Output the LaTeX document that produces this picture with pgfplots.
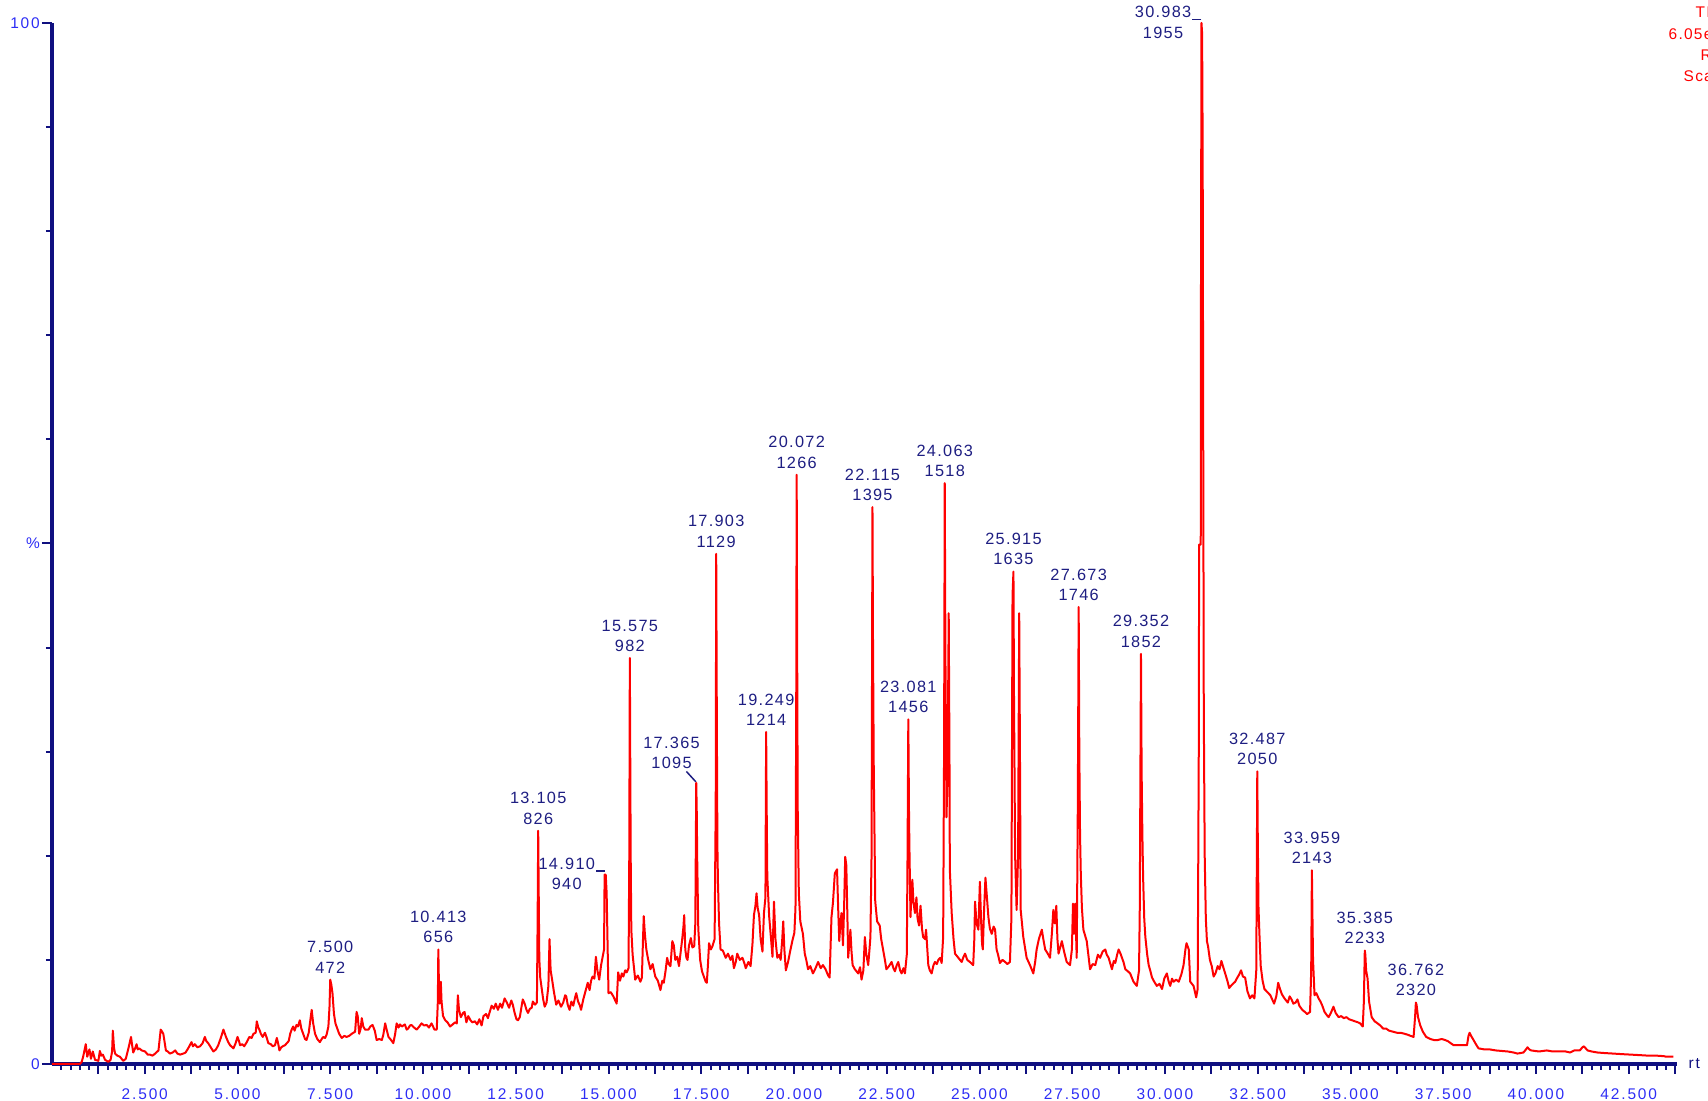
\documentclass[border=0pt]{standalone}
\usepackage{fontspec}
\setmainfont{Liberation Sans}
\newfontfamily\lblfont[LetterSpace=8]{Liberation Sans}
\newfontfamily\tkfont[LetterSpace=12]{Liberation Sans}
\usepackage{pgfplots}
\pgfplotsset{compat=1.18}
\definecolor{axiscol}{RGB}{16,16,128}
\definecolor{tickblue}{RGB}{45,45,245}
\definecolor{lblcol}{RGB}{30,30,130}
\definecolor{tracered}{RGB}{255,0,0}
\newcommand{\tickfont}{\tkfont\fontsize{4.4pt}{5pt}\selectfont}
\newcommand{\pkfont}{\lblfont\fontsize{4.64pt}{5.5pt}\selectfont}
\tikzset{lbl/.style={inner sep=0pt, text=lblcol, font=\pkfont}}
\newcommand{\pk}[4]{%
  \node[lbl, anchor=base, yshift=0.66mm] at (axis cs:#1,#2) {#4};
  \node[lbl, anchor=base, yshift=2.69mm] at (axis cs:#1,#2) {#3};
}
\pgfplotstableread{
x y
0.00 0.0
0.75 0.0
0.80 0.2
0.84 0.7
0.91 1.9
0.95 0.7
1.01 1.4
1.05 0.5
1.10 1.2
1.16 0.4
1.25 0.3
1.29 1.25
1.33 0.8
1.37 0.9
1.43 0.4
1.52 0.2
1.58 0.4
1.62 1.2
1.64 3.2
1.67 1.6
1.70 1.0
1.76 0.8
1.83 0.7
1.92 0.3
1.99 0.5
2.06 1.5
2.13 2.6
2.16 1.8
2.19 1.1
2.24 1.5
2.28 1.9
2.31 1.4
2.35 1.5
2.42 1.3
2.51 1.2
2.58 0.9
2.64 0.9
2.71 0.8
2.78 1.0
2.87 1.3
2.93 3.3
2.97 3.1
3.00 2.9
3.04 2.0
3.07 1.3
3.12 1.2
3.18 1.0
3.25 1.1
3.32 1.3
3.38 1.0
3.45 0.9
3.54 1.0
3.60 1.1
3.67 1.5
3.76 2.1
3.80 1.7
3.85 1.9
3.92 1.6
3.99 1.7
4.06 2.0
4.12 2.6
4.16 2.2
4.21 2.0
4.28 1.6
4.35 1.2
4.42 1.4
4.48 1.8
4.55 2.5
4.62 3.3
4.66 2.9
4.69 2.6
4.75 2.1
4.80 1.8
4.89 1.5
4.95 2.0
5.00 2.6
5.04 2.2
5.07 1.8
5.13 1.9
5.18 1.7
5.25 2.1
5.32 2.6
5.38 2.5
5.43 2.9
5.49 3.0
5.52 4.1
5.56 3.5
5.59 3.3
5.63 2.9
5.68 2.6
5.74 3.0
5.79 2.5
5.83 2.0
5.90 1.9
5.95 1.7
6.01 1.8
6.06 2.5
6.10 1.9
6.13 1.3
6.18 1.6
6.22 1.7
6.28 1.8
6.33 2.0
6.38 2.2
6.42 2.9
6.46 3.3
6.50 3.6
6.54 3.2
6.59 3.75
6.63 3.6
6.68 4.2
6.72 3.4
6.77 2.9
6.82 2.4
6.86 2.3
6.92 3.0
6.97 4.4
7.00 5.2
7.04 3.9
7.09 2.9
7.15 2.4
7.22 2.1
7.27 2.4
7.31 2.6
7.36 2.5
7.40 2.8
7.45 3.6
7.48 5.5
7.50 8.1
7.53 7.6
7.56 6.8
7.60 4.8
7.64 3.9
7.67 3.6
7.74 2.9
7.81 2.5
7.88 2.7
7.94 2.6
8.01 2.7
8.08 2.9
8.17 3.1
8.21 5.0
8.24 4.6
8.28 2.9
8.32 3.4
8.35 4.4
8.39 3.6
8.44 3.3
8.53 3.3
8.58 3.6
8.64 3.75
8.70 3.2
8.75 2.3
8.82 2.4
8.89 2.3
8.93 2.8
8.98 3.9
9.02 3.3
9.07 2.6
9.14 2.3
9.20 2.0
9.25 2.9
9.29 3.9
9.34 3.5
9.38 3.8
9.43 3.6
9.51 3.8
9.56 3.3
9.60 3.4
9.65 3.7
9.69 3.75
9.76 3.5
9.83 3.3
9.90 3.6
9.96 3.9
10.03 3.7
10.10 3.75
10.16 3.5
10.23 3.9
10.27 3.6
10.31 3.3
10.37 3.3
10.40 6.0
10.413 11.0
10.43 7.5
10.45 5.8
10.48 7.9
10.50 6.0
10.54 4.6
10.60 4.2
10.66 4.0
10.73 3.6
10.80 3.8
10.86 4.0
10.91 3.9
10.94 6.6
10.97 5.2
11.02 4.5
11.08 4.9
11.12 5.0
11.17 4.0
11.22 4.6
11.28 4.2
11.33 4.0
11.40 4.1
11.46 3.8
11.52 4.3
11.58 3.7
11.63 4.6
11.70 4.8
11.75 4.4
11.79 4.9
11.85 5.6
11.91 5.3
11.96 5.8
12.02 5.2
12.08 5.8
12.13 5.4
12.20 6.3
12.26 5.9
12.32 5.4
12.38 6.1
12.42 5.7
12.47 4.9
12.52 4.3
12.56 4.2
12.61 4.5
12.66 5.6
12.69 6.2
12.74 5.8
12.79 5.2
12.83 4.9
12.88 5.3
12.93 5.4
12.96 6.0
13.02 5.7
13.07 5.9
13.09 14.0
13.105 22.4
13.12 16.0
13.135 10.1
13.16 8.3
13.19 7.5
13.24 6.2
13.28 5.5
13.33 5.9
13.38 7.5
13.41 12.0
13.44 9.0
13.48 8.1
13.53 6.9
13.59 5.7
13.65 6.1
13.72 5.5
13.78 5.9
13.83 6.6
13.86 6.5
13.90 5.7
13.95 5.2
14.00 6.0
14.05 5.6
14.10 6.4
14.13 6.8
14.18 6.0
14.23 5.6
14.26 5.2
14.32 6.2
14.38 7.0
14.44 7.8
14.49 7.1
14.53 8.0
14.57 8.4
14.62 8.2
14.66 10.3
14.70 9.0
14.75 8.1
14.80 9.5
14.88 11.0
14.895 18.2
14.925 18.2
14.95 16.4
14.98 10.5
15.00 6.8
15.06 6.9
15.13 6.5
15.18 6.1
15.22 5.8
15.26 8.8
15.31 8.0
15.36 8.7
15.40 8.4
15.45 9.0
15.49 8.8
15.54 9.2
15.56 20.0
15.575 39.0
15.59 26.0
15.60 19.0
15.615 12.9
15.65 10.5
15.72 8.1
15.79 8.5
15.86 7.9
15.90 8.3
15.93 12.0
15.95 14.2
15.98 12.5
16.02 11.0
16.07 10.0
16.13 9.1
16.19 9.6
16.26 8.4
16.33 8.0
16.40 7.1
16.45 8.0
16.49 7.8
16.54 9.0
16.58 10.2
16.62 9.6
16.67 9.4
16.72 11.8
16.76 11.4
16.80 10.0
16.85 10.3
16.90 9.4
16.95 10.9
16.99 12.1
17.02 13.2
17.04 14.3
17.07 11.0
17.10 10.2
17.13 10.0
17.17 11.4
17.22 12.1
17.26 11.2
17.31 11.3
17.34 13.5
17.365 27.0
17.38 24.0
17.39 19.9
17.42 13.0
17.47 10.0
17.52 8.9
17.57 8.4
17.62 7.9
17.65 7.8
17.68 9.5
17.71 11.6
17.76 11.0
17.80 11.3
17.86 12.0
17.89 25.0
17.903 49.0
17.92 33.0
17.935 21.0
17.95 17.5
17.98 13.5
18.02 11.0
18.08 10.9
18.16 10.2
18.22 10.6
18.29 10.0
18.34 10.4
18.38 9.2
18.43 9.8
18.47 10.6
18.54 10.0
18.61 10.2
18.66 9.7
18.70 9.2
18.77 9.8
18.83 9.4
18.88 11.5
18.92 14.3
18.96 15.2
18.99 16.4
19.02 15.0
19.06 14.3
19.10 12.0
19.15 10.8
19.19 14.5
19.23 16.0
19.249 31.9
19.265 24.0
19.28 18.0
19.33 14.2
19.37 12.5
19.42 10.3
19.46 15.6
19.50 12.0
19.55 10.2
19.60 10.5
19.64 10.0
19.68 11.8
19.71 13.7
19.74 11.0
19.78 9.0
19.84 9.8
19.90 10.9
19.96 11.9
20.01 12.6
20.04 15.0
20.06 35.0
20.072 56.6
20.085 40.0
20.10 24.5
20.13 16.4
20.17 13.7
20.24 12.5
20.29 10.6
20.33 10.0
20.38 9.1
20.44 9.4
20.51 8.7
20.58 9.2
20.65 9.8
20.72 9.2
20.78 9.5
20.85 9.1
20.92 8.5
20.96 8.3
21.01 14.1
21.05 15.5
21.10 18.3
21.16 18.7
21.19 15.0
21.22 11.8
21.25 13.5
21.28 14.5
21.32 11.4
21.35 15.0
21.38 19.9
21.41 19.1
21.44 14.0
21.46 10.2
21.49 11.5
21.52 12.9
21.55 10.8
21.58 9.5
21.64 9.1
21.73 8.7
21.78 9.3
21.82 8.1
21.87 9.0
21.91 12.2
21.95 10.5
22.00 9.5
22.03 10.8
22.06 12.2
22.09 20.0
22.115 53.5
22.13 40.0
22.15 28.3
22.19 15.6
22.24 13.7
22.31 13.3
22.35 12.0
22.40 11.0
22.45 10.0
22.49 9.1
22.56 9.4
22.63 9.8
22.68 9.2
22.72 8.9
22.77 9.5
22.81 9.8
22.86 9.0
22.90 8.7
22.95 9.2
22.99 8.7
23.04 10.5
23.06 20.0
23.081 33.1
23.10 24.0
23.11 21.0
23.14 14.1
23.16 16.0
23.19 17.7
23.22 15.5
23.26 14.5
23.30 16.0
23.33 14.0
23.37 13.3
23.41 15.2
23.45 13.0
23.48 12.2
23.53 12.0
23.56 12.9
23.62 9.5
23.66 9.0
23.71 8.7
23.76 9.5
23.80 9.8
23.85 9.6
23.89 10.0
23.94 10.2
23.98 9.7
24.02 12.2
24.045 30.0
24.063 55.8
24.08 40.0
24.11 23.7
24.14 28.0
24.17 43.3
24.19 30.0
24.20 18.7
24.25 14.5
24.30 12.0
24.34 10.6
24.43 10.2
24.52 9.8
24.57 10.3
24.61 10.6
24.67 10.0
24.74 9.8
24.83 9.5
24.86 12.0
24.88 15.6
24.92 13.5
24.97 12.9
25.01 17.5
25.04 14.0
25.07 11.5
25.09 11.0
25.12 14.5
25.16 17.9
25.20 16.0
25.24 14.1
25.28 13.0
25.33 12.5
25.38 13.2
25.42 12.9
25.46 11.0
25.50 10.5
25.55 9.7
25.62 10.0
25.69 9.8
25.75 9.6
25.82 9.8
25.86 14.0
25.89 45.0
25.915 47.3
25.93 35.0
25.96 20.0
26.00 14.8
26.04 20.0
26.07 43.3
26.09 30.0
26.11 14.8
26.18 12.2
26.27 10.2
26.36 9.5
26.45 8.7
26.50 9.8
26.54 11.0
26.60 12.0
26.68 12.9
26.72 12.0
26.77 11.0
26.84 10.6
26.90 10.2
26.95 12.5
26.99 14.8
27.03 13.5
27.07 15.2
27.10 12.0
27.13 10.6
27.22 11.8
27.28 10.8
27.35 9.8
27.44 9.5
27.49 11.0
27.52 15.4
27.55 12.5
27.58 15.4
27.62 10.2
27.65 25.0
27.673 43.9
27.69 30.0
27.71 22.0
27.73 18.3
27.76 15.0
27.80 12.9
27.89 11.8
27.98 9.1
28.05 9.6
28.12 9.5
28.19 10.5
28.25 10.2
28.32 10.8
28.39 11.0
28.43 10.5
28.48 10.2
28.57 9.1
28.62 9.9
28.66 9.7
28.71 10.5
28.75 11.0
28.80 10.6
28.84 10.2
28.88 9.8
28.93 9.1
29.00 8.9
29.06 8.7
29.15 7.9
29.24 7.5
29.30 9.0
29.32 15.0
29.352 39.4
29.37 28.0
29.39 22.0
29.41 17.9
29.44 14.0
29.47 12.2
29.52 10.5
29.56 9.5
29.60 9.0
29.65 8.3
29.71 7.9
29.78 7.5
29.85 7.7
29.92 7.2
29.98 8.2
30.05 8.7
30.10 7.9
30.14 7.5
30.19 8.2
30.23 7.9
30.30 8.1
30.37 7.9
30.44 8.6
30.50 9.5
30.55 11.0
30.58 11.6
30.64 11.0
30.68 7.9
30.77 7.5
30.84 6.4
30.88 7.2
30.91 30.0
30.92 49.9
30.963 49.9
30.97 75.0
30.983 100.0
31.00 99.0
31.015 88.0
31.03 60.0
31.045 34.0
31.07 20.0
31.10 14.0
31.13 11.8
31.16 11.3
31.21 10.0
31.26 9.4
31.31 8.4
31.36 8.7
31.42 9.4
31.47 9.1
31.52 9.9
31.57 9.3
31.63 8.6
31.68 8.0
31.73 7.3
31.80 7.6
31.89 7.9
31.95 8.3
32.00 8.6
32.05 9.0
32.10 8.4
32.16 8.3
32.22 7.0
32.29 6.3
32.35 6.6
32.41 6.3
32.46 9.0
32.487 28.1
32.50 22.0
32.52 15.0
32.55 12.0
32.58 9.4
32.63 8.0
32.68 7.2
32.76 6.9
32.84 6.6
32.89 6.2
32.94 5.8
33.00 6.5
33.05 7.8
33.10 7.2
33.15 6.7
33.22 6.3
33.31 5.9
33.36 6.5
33.41 6.2
33.46 5.8
33.52 5.9
33.57 6.2
33.62 5.6
33.70 5.2
33.77 5.0
33.83 4.8
33.91 5.0
33.94 9.0
33.959 18.6
33.975 14.0
33.99 10.0
34.03 6.6
34.08 6.8
34.14 6.3
34.19 6.0
34.24 5.6
34.30 5.0
34.36 4.7
34.41 4.5
34.47 4.9
34.54 5.5
34.60 4.9
34.68 4.5
34.75 4.6
34.82 4.4
34.89 4.5
34.96 4.3
35.04 4.2
35.12 4.1
35.20 4.0
35.26 3.9
35.33 3.6
35.36 6.0
35.385 10.9
35.40 10.5
35.42 9.0
35.46 8.2
35.50 6.0
35.57 4.5
35.65 4.1
35.73 3.9
35.80 3.7
35.88 3.4
35.96 3.4
36.04 3.2
36.15 3.1
36.25 3.0
36.35 3.0
36.46 2.9
36.55 2.8
36.62 2.7
36.70 2.6
36.74 4.5
36.762 5.9
36.78 5.7
36.82 4.5
36.88 3.7
36.95 3.1
37.04 2.6
37.15 2.4
37.25 2.3
37.35 2.3
37.46 2.4
37.55 2.3
37.62 2.2
37.70 2.0
37.78 1.8
37.88 1.8
38.00 1.8
38.14 1.8
38.18 2.7
38.21 3.0
38.25 2.7
38.30 2.4
38.38 1.9
38.45 1.5
38.61 1.4
38.75 1.4
38.92 1.3
39.08 1.25
39.24 1.2
39.40 1.1
39.50 1.0
39.66 1.1
39.73 1.4
39.77 1.6
39.82 1.4
39.87 1.3
40.08 1.2
40.29 1.3
40.45 1.2
40.61 1.2
40.80 1.2
40.92 1.1
41.03 1.3
41.10 1.3
41.18 1.3
41.25 1.6
41.29 1.7
41.34 1.5
41.39 1.3
41.50 1.2
41.66 1.1
41.85 1.05
42.08 1.0
42.30 0.95
42.55 0.9
42.80 0.85
43.03 0.8
43.25 0.8
43.45 0.75
43.50 0.7
43.70 0.7
}\tic
\begin{document}
\begin{tikzpicture}
\path[use as bounding box, clip] (0,0) rectangle (170.8mm,110.1mm);
\begin{axis}[
  at={(5.2mm,3.7mm)}, anchor=south west,
  scale only axis, width=162.5mm, height=104.1mm,
  xmin=0, xmax=43.8, ymin=0, ymax=100,
  axis lines=left,
  axis line style={draw=axiscol, line width=0.32mm, -},
  clip=false,
  tick align=outside,
  major tick length=1.0mm, minor tick length=0.6mm,
  tick style={draw=axiscol, line width=0.2mm},
  xtick={2.5,5,...,42.5},
  xticklabels={2.500,5.000,7.500,10.000,12.500,15.000,17.500,20.000,22.500,25.000,27.500,30.000,32.500,35.000,37.500,40.000,42.500},
  extra x ticks={1.25,3.75,6.25,8.75,11.25,13.75,16.25,18.75,21.25,23.75,26.25,28.75,31.25,33.75,36.25,38.75,41.25,43.75},
  extra x tick labels={},
  minor xtick={0.25,0.5,...,43.75},
  ytick={0,100}, yticklabels={0,100},
  extra y ticks={50}, extra y tick labels={\%},
  minor ytick={10,20,...,90},
  tick label style={font=\tickfont, text=tickblue},
  yticklabel style={inner sep=0pt, xshift=-0.15mm},
  xticklabel style={yshift=-0.2mm},
  /pgf/number format/assume math mode=true,
]
\addplot[draw=tracered, line width=0.2mm, mark=none, line join=round] table[x=x,y=y] {\tic};
\pk{7.500}{8.1}{7.500}{472}
\pk{10.413}{11.0}{10.413}{656}
\pk{13.105}{22.4}{13.105}{826}
\pk{15.575}{39.0}{15.575}{982}
\pk{17.903}{49.0}{17.903}{1129}
\pk{19.249}{31.9}{19.249}{1214}
\pk{20.072}{56.6}{20.072}{1266}
\pk{22.115}{53.5}{22.115}{1395}
\pk{23.081}{33.1}{23.081}{1456}
\pk{24.063}{55.8}{24.063}{1518}
\pk{25.915}{47.3}{25.915}{1635}
\pk{27.673}{43.9}{27.673}{1746}
\pk{29.352}{39.4}{29.352}{1852}
\pk{32.487}{28.1}{32.487}{2050}
\pk{33.959}{18.6}{33.959}{2143}
\pk{35.385}{10.9}{35.385}{2233}
\pk{36.762}{5.9}{36.762}{2320}
% 14.910 with underscore leader
\node[lbl, anchor=base east, xshift=-0.95mm, yshift=0.55mm] (a) at (axis cs:14.91,18.2) {14.910};
\node[lbl, anchor=base, yshift=-2.03mm] at (a.base) {940};
\draw[lblcol, line width=0.15mm] ([yshift=0.35mm]axis cs:14.91,18.2) -- ++(-0.95mm,0);
% 17.365 with diagonal leader
\node[lbl, anchor=base, yshift=1.4mm] at (axis cs:16.70,27.0) {1095};
\node[lbl, anchor=base, yshift=3.43mm] at (axis cs:16.70,27.0) {17.365};
\draw[lblcol, line width=0.15mm] (axis cs:17.10,28.1) -- (axis cs:17.355,27.1);
% 30.983 with underscore leader
\node[lbl, anchor=base east, xshift=-0.95mm, yshift=0.55mm] (b) at (axis cs:30.983,100) {30.983};
\node[lbl, anchor=base, yshift=-2.06mm] at (b.base) {1955};
\draw[lblcol, line width=0.15mm] ([yshift=0.35mm]axis cs:30.983,100) -- ++(-0.95mm,0);
% axis name
\node[anchor=west, inner sep=0pt, text=axiscol, font=\tickfont, xshift=1.1mm] at (axis cs:43.8,0) {rt};
\end{axis}
% header text top right (cut by the page edge, as in the reference)
\begin{scope}[every node/.style={anchor=base west, inner sep=0pt, text=tracered, font=\lblfont\fontsize{4.4pt}{5pt}\selectfont}]
\node at (169.5mm,108.3mm) {TIC};
\node at (166.8mm,106.1mm) {6.05e8};
\node at (170.0mm,104.0mm) {Rt};
\node at (168.3mm,101.9mm) {Scan EI+};
\end{scope}
\end{tikzpicture}
\end{document}
